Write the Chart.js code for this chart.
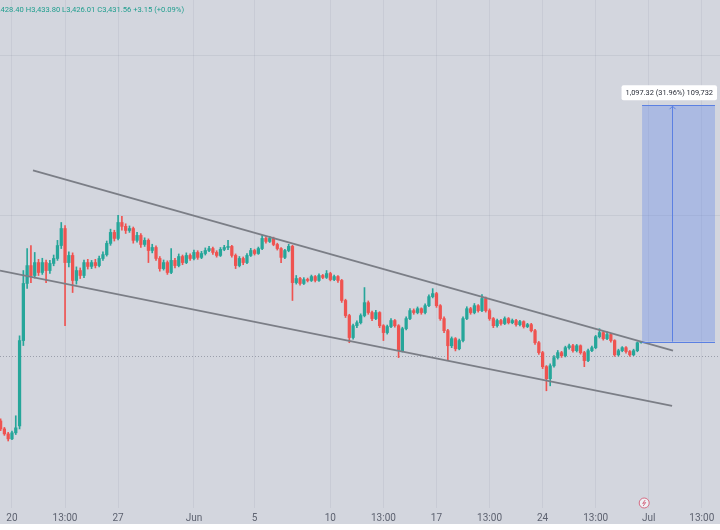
<!DOCTYPE html>
<html>
<head>
<meta charset="utf-8">
<script src="https://cdn.jsdelivr.net/npm/chart.js@4.4.1/dist/chart.umd.min.js"></script>
<style>
html, body { margin: 0; padding: 0; background: #fff; }
</style>
</head>
<body>
<canvas id="myChart" width="720" height="530"></canvas>
<script>
// ETH candles, 6h steps, x in days from May 20
const firstDay = -0.75;
const dayStep = 0.25;

const opens = [
  3065,3028,3005,2982,3010,3042,3438,3703,3786,3740,
  3800,3754,3800,3763,3796,3819,3879,3958,3800,3833,
  3717,3763,3740,3800,3782,3800,3786,3819,3837,3889,
  3940,3912,3986,3968,3949,3958,3903,3926,3884,3903,
  3856,3870,3819,3772,3800,3754,3810,3786,3828,3800,
  3833,3819,3847,3824,3842,3856,3865,3847,3833,3861,
  3870,3875,3833,3786,3819,3800,3833,3856,3842,3865,
  3912,3898,3912,3884,3865,3824,3856,3875,3707,3726,
  3703,3721,3717,3735,3717,3740,3731,3749,3721,3735,
  3717,3624,3554,3452,3507,3521,3554,3614,3568,3540,
  3568,3507,3475,3503,3531,3507,3391,3493,3540,3577,
  3568,3586,3568,3600,3642,3656,3600,3540,3484,3414,
  3447,3400,3438,3540,3586,3568,3600,3577,3633,3577,
  3540,3507,3531,3517,3540,3521,3531,3512,3526,3503,
  3512,3484,3428,3382,3317,3261,3321,3359,3382,3368,
  3405,3414,3391,3414,3382,3345,3391,3405,3456,3475,
  3447,3466,3438,3372,3391,3405,3387,3372,3391,3428.40
];
const highs = [
  3075,3035,3012,3018,3089,3460,3763,3865,3879,3847,
  3815,3820,3812,3810,3835,3903,3986,3972,3850,3845,
  3780,3775,3812,3815,3810,3815,3830,3850,3900,3955,
  3950,4019,4014,3980,3970,3965,3940,3935,3915,3910,
  3885,3878,3828,3812,3808,3865,3820,3840,3835,3845,
  3840,3858,3855,3852,3868,3875,3872,3855,3870,3880,
  3903,3880,3840,3828,3826,3842,3866,3862,3872,3926,
  3920,3922,3918,3890,3870,3862,3885,3880,3740,3732,
  3730,3728,3742,3740,3748,3745,3763,3755,3742,3740,
  3722,3630,3560,3515,3530,3562,3684,3622,3575,3578,
  3572,3512,3510,3540,3536,3512,3500,3548,3586,3585,
  3594,3590,3608,3650,3679,3662,3605,3548,3490,3455,
  3452,3445,3548,3595,3592,3610,3605,3652,3640,3585,
  3545,3538,3536,3548,3545,3538,3536,3532,3530,3518,
  3518,3490,3434,3388,3322,3330,3368,3392,3388,3412,
  3422,3420,3420,3418,3388,3398,3412,3462,3493,3480,
  3478,3472,3442,3398,3410,3410,3392,3398,3432,3433.80
];
const lows = [
  3020,2998,2972,2978,3002,3028,3415,3680,3707,3728,
  3740,3745,3707,3750,3785,3810,3865,3507,3780,3661,
  3700,3726,3730,3770,3772,3775,3780,3810,3830,3880,
  3900,3905,3950,3935,3940,3890,3895,3870,3875,3800,
  3845,3810,3760,3765,3745,3748,3775,3780,3790,3795,
  3810,3812,3815,3818,3835,3850,3838,3825,3828,3855,
  3860,3825,3772,3780,3790,3795,3828,3835,3838,3860,
  3890,3893,3878,3858,3800,3818,3850,3624,3700,3695,
  3698,3710,3712,3710,3712,3725,3726,3715,3716,3708,
  3615,3545,3428,3445,3498,3515,3548,3560,3530,3535,
  3498,3438,3468,3498,3500,3359,3385,3488,3535,3560,
  3562,3560,3562,3595,3636,3592,3532,3475,3345,3405,
  3390,3395,3432,3535,3560,3562,3570,3572,3570,3532,
  3498,3500,3510,3512,3515,3516,3505,3506,3496,3498,
  3478,3420,3374,3308,3205,3228,3314,3352,3360,3362,
  3398,3384,3385,3375,3317,3340,3386,3400,3450,3440,
  3442,3430,3365,3366,3386,3380,3365,3368,3386,3426.01
];
const closes = [
  3028,3005,2982,3010,3033,3438,3703,3786,3740,3800,
  3754,3800,3763,3796,3819,3879,3958,3800,3833,3717,
  3763,3740,3800,3782,3800,3786,3819,3837,3889,3940,
  3912,3986,3968,3949,3958,3903,3926,3884,3903,3856,
  3870,3819,3772,3800,3754,3810,3786,3828,3800,3833,
  3819,3847,3824,3842,3856,3865,3847,3833,3861,3870,
  3875,3833,3786,3819,3800,3833,3856,3842,3865,3912,
  3898,3912,3884,3865,3824,3856,3875,3707,3726,3703,
  3721,3717,3735,3717,3740,3731,3749,3721,3735,3717,
  3624,3554,3452,3507,3521,3554,3614,3568,3540,3568,
  3507,3475,3503,3531,3507,3391,3493,3540,3577,3568,
  3586,3568,3600,3642,3656,3600,3540,3484,3414,3447,
  3400,3438,3540,3586,3568,3600,3577,3633,3577,3540,
  3507,3531,3517,3540,3521,3531,3512,3526,3503,3512,
  3484,3428,3382,3317,3261,3321,3359,3382,3368,3405,
  3414,3391,3414,3382,3345,3391,3405,3456,3475,3447,
  3466,3438,3372,3391,3405,3387,3372,3391,3428,3431.56
];

const tickDays = [0, 3.5, 7, 12, 16, 21, 24.5, 28, 31.5, 35, 38.5, 42, 45.5];
const tickLabels = ['20', '13:00', '27', 'Jun', '5', '10', '13:00', '17', '13:00', '24', '13:00', 'Jul', '13:00'];
const gridPrices = [4763, 4019];
const lastPriceLine = 3368;

// channel lines [day, price]
const upperLine = [[1.385, 4228], [43.6, 3391]];
const lowerLine = [[-0.79, 3763], [43.54, 3135]];

// long position measure
const measureDays = [41.56, 46.37];
const measurePrices = [3433, 4530.32];
const measureArrowDay = 43.54;
const measureText = '1,097.32 (31.96%) 109,732';
const headerText = ',428.40 H3,433.80 L3,426.01 C3,431.56 +3.15 (+0.09%)';

const GREEN = '#26a69a';
const RED = '#ef5350';
const BG = '#d3d6de';

const candleDays = opens.map((o, i) => firstDay + i * dayStep);
const candleColors = closes.map((c, i) => c >= opens[i] ? GREEN : RED);

const backdrop = {
  id: 'backdrop',
  beforeDraw(chart) {
    const c = chart.ctx;
    c.save();
    c.fillStyle = '#fff';
    c.fillRect(0, 0, chart.width, chart.height);
    c.fillStyle = BG;
    c.fillRect(0, 0, chart.width, 524);
    c.restore();
  },
  beforeDatasetsDraw(chart) {
    const c = chart.ctx, y = chart.scales.y, a = chart.chartArea;
    const py = Math.round(y.getPixelForValue(lastPriceLine)) + 0.5;
    c.save();
    c.strokeStyle = 'rgba(110,115,130,0.55)';
    c.setLineDash([1, 2]);
    c.lineWidth = 1;
    c.beginPath();
    c.moveTo(a.left, py);
    c.lineTo(a.right, py);
    c.stroke();
    c.restore();
  }
};

const overlay = {
  id: 'overlay',
  afterDatasetsDraw(chart) {
    const c = chart.ctx, x = chart.scales.x, y = chart.scales.y;
    const x0 = x.getPixelForValue(measureDays[0]);
    const x1 = x.getPixelForValue(measureDays[1]);
    const yb = y.getPixelForValue(measurePrices[0]);
    const yt = y.getPixelForValue(measurePrices[1]);
    const xa = x.getPixelForValue(measureArrowDay);
    c.save();
    c.fillStyle = 'rgba(90,130,235,0.33)';
    c.fillRect(x0, yt, x1 - x0, yb - yt);
    c.strokeStyle = '#5b80e2';
    c.lineWidth = 1;
    c.beginPath();
    c.moveTo(x0, Math.round(yt) + 0.5); c.lineTo(x1, Math.round(yt) + 0.5);
    c.moveTo(x0, Math.round(yb) + 0.5); c.lineTo(x1, Math.round(yb) + 0.5);
    c.moveTo(Math.round(xa) + 0.5, yb); c.lineTo(Math.round(xa) + 0.5, yt + 1);
    c.moveTo(xa - 2.5, yt + 4); c.lineTo(xa + 0.5, yt + 1); c.lineTo(xa + 3.5, yt + 4);
    c.stroke();

    // label
    c.font = '7.4px Roboto';
    const w = c.measureText(measureText).width + 8;
    const ly = yt - 13;
    let lx = xa - w / 2;
    if (lx + w > 717) lx = 717 - w;
    c.fillStyle = '#ffffff';
    c.beginPath();
    c.roundRect(lx, ly - 7, w, 15, 2);
    c.fill();
    c.fillStyle = '#2a2e39';
    c.textAlign = 'center';
    c.textBaseline = 'middle';
    c.fillText(measureText, lx + w / 2, ly + 0.5);

    // header OHLC
    c.textAlign = 'left';
    c.fillStyle = '#1f9e8e';
    c.font = '7.6px Roboto';
    c.fillText(headerText, -1, 10);

    // small event marker
    const ix = x.getPixelForValue(41.7), iy = 503;
    c.fillStyle = '#eef0f4';
    c.strokeStyle = '#d66c84';
    c.beginPath();
    c.arc(ix, iy, 5, 0, Math.PI * 2);
    c.fill();
    c.stroke();
    c.beginPath();
    c.moveTo(ix + 1, iy - 3); c.lineTo(ix - 1.5, iy + 0.5); c.lineTo(ix + 1.5, iy - 0.5); c.lineTo(ix - 1, iy + 3);
    c.stroke();
    c.restore();
  }
};

const ctx = document.getElementById('myChart').getContext('2d');
const myChart = new Chart(ctx, {
  type: 'bar',
  data: {
    datasets: [
      {
        type: 'line',
        data: upperLine.map(p => ({ x: p[0], y: p[1] })),
        borderColor: '#7b7e86', borderWidth: 1.8, pointRadius: 0, fill: false, order: 0
      },
      {
        type: 'line',
        data: lowerLine.map(p => ({ x: p[0], y: p[1] })),
        borderColor: '#7b7e86', borderWidth: 1.8, pointRadius: 0, fill: false, order: 0
      },
      {
        label: 'wicks',
        data: candleDays.map((d, i) => ({ x: d, y: [lows[i], highs[i]] })),
        backgroundColor: candleColors,
        barThickness: 1,
        grouped: false,
        order: 2
      },
      {
        label: 'bodies',
        data: candleDays.map((d, i) => ({ x: d, y: [opens[i], closes[i]] })),
        backgroundColor: candleColors,
        barThickness: 2.6,
        minBarLength: 1,
        grouped: false,
        order: 1
      }
    ]
  },
  options: {
    responsive: false,
    animation: false,
    layout: { padding: { left: 0, right: 0, top: 0, bottom: 2 } },
    plugins: { legend: { display: false }, tooltip: { enabled: false } },
    scales: {
      x: {
        type: 'linear',
        min: -0.79,
        max: 46.7,
        offset: false,
        afterBuildTicks: s => { s.ticks = tickDays.map(v => ({ value: v })); },
        ticks: {
          autoSkip: false, source: 'data', maxRotation: 0, minRotation: 0, padding: 4,
          color: '#5d6270', font: { size: 10, family: 'Roboto' },
          callback: (v, i) => tickLabels[i]
        },
        grid: { color: 'rgba(90,100,120,0.09)', drawTicks: false, offset: false },
        border: { display: false }
      },
      y: {
        min: 2661,
        max: 5018.5,
        afterBuildTicks: s => { s.ticks = gridPrices.map(v => ({ value: v })); },
        afterFit: s => { s.width = 0; },
        ticks: { display: false },
        grid: { color: 'rgba(90,100,120,0.10)', drawTicks: false },
        border: { display: false }
      }
    }
  },
  plugins: [backdrop, overlay]
});
</script>
</body>
</html>
